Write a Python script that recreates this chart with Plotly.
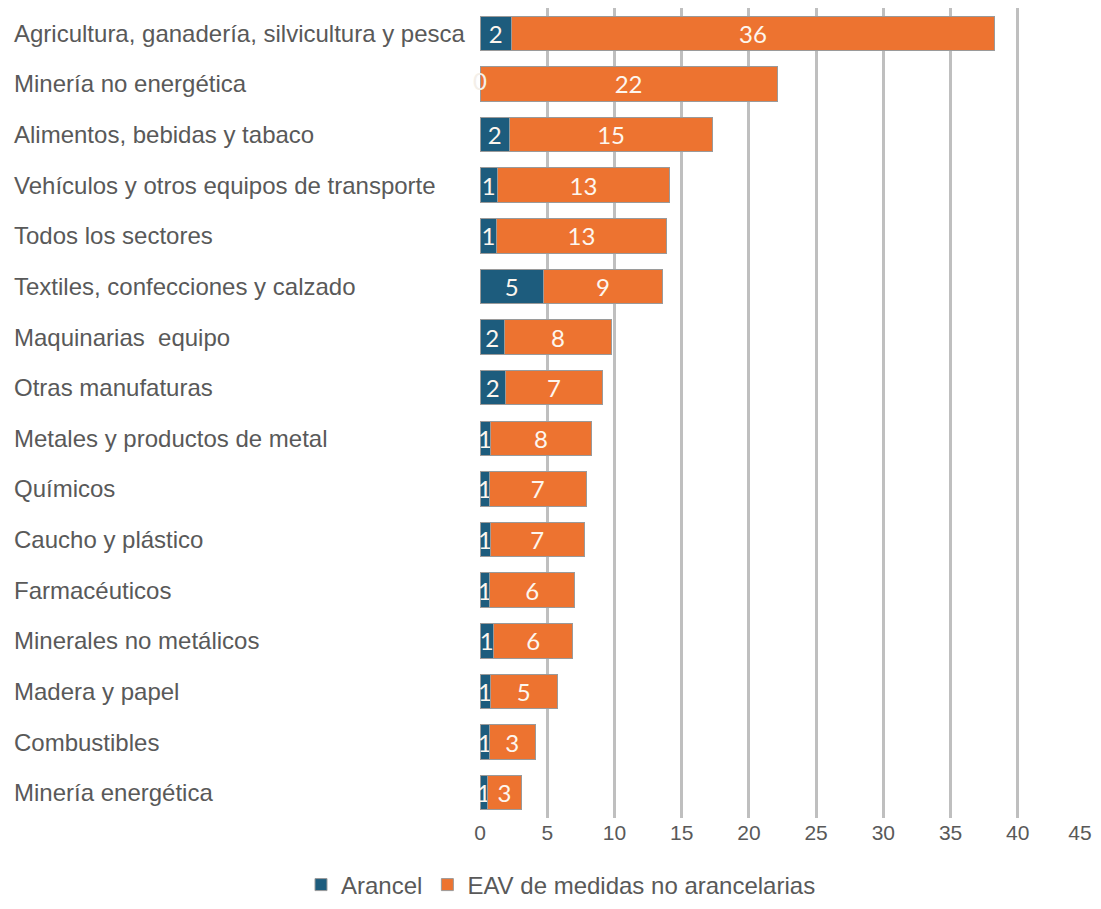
import plotly.graph_objects as go

categories = [
    "Agricultura, ganadería, silvicultura y pesca",
    "Minería no energética",
    "Alimentos, bebidas y tabaco",
    "Vehículos y otros equipos de transporte",
    "Todos los sectores",
    "Textiles, confecciones y calzado",
    "Maquinarias  equipo",
    "Otras manufaturas",
    "Metales y productos de metal",
    "Químicos",
    "Caucho y plástico",
    "Farmacéuticos",
    "Minerales no metálicos",
    "Madera y papel",
    "Combustibles",
    "Minería energética",
]
arancel = [2.35, 0.0, 2.2, 1.3, 1.25, 4.7, 1.8, 1.9, 0.75, 0.7, 0.75, 0.7, 1.0, 0.75, 0.7, 0.55]
eav = [35.9, 22.1, 15.1, 12.8, 12.6, 8.9, 8.0, 7.2, 7.55, 7.2, 7.0, 6.35, 5.9, 5.0, 3.4, 2.55]

x_ticks = [0, 5, 10, 15, 20, 25, 30, 35, 40, 45]
series_names = ["Arancel", "EAV de medidas no arancelarias"]

BLUE = "#1d5c7d"
ORANGE = "#ed7330"
GRAY_TXT = "#595959"
LABEL_FONT = "Liberation Sans, Arial, sans-serif"

# the page body adds an 8px offset; figure coords = window coords - 8
W, H = 1089, 893
ML, MR, MT, MB = 472, 12, 0, 83
PW = W - ML - MR
PH = H - MT - MB

fig = go.Figure()

arancel_text = [f"{v:.0f}" if v > 0 else "" for v in arancel]
fig.add_trace(go.Bar(
    y=categories, x=arancel, orientation="h", name=series_names[0],
    marker=dict(color=BLUE, line=dict(color="#9a9a9a", width=1)),
    text=arancel_text, textposition="inside", insidetextanchor="middle",
    constraintext="none", textangle=0,
    textfont=dict(family="Lato", size=24, color="#fdf6ee"),
    hoverinfo="skip",
))
fig.add_trace(go.Bar(
    y=categories, x=eav, orientation="h", name=series_names[1],
    marker=dict(color=ORANGE, line=dict(color="#9a9a9a", width=1)),
    texttemplate="%{x:.0f}", textposition="inside", insidetextanchor="middle",
    constraintext="none", textangle=0,
    textfont=dict(family="Lato", size=24, color="#fdf6ee"),
    hoverinfo="skip",
))

# zero-valued arancel label (drawn at its bar position)
zero_y = [c for c, v in zip(categories, arancel) if v == 0]
zero_x = [v for v in arancel if v == 0]
fig.add_trace(go.Scatter(
    x=zero_x, y=zero_y, mode="text", text=[f"{v:.0f}" for v in zero_x],
    textposition="middle center",
    textfont=dict(family="Lato", size=24, color="#f4efe9"),
    showlegend=False, hoverinfo="skip", cliponaxis=False,
))

# carrier for the overlaid axis that holds the last tick label (kept in view)
fig.add_trace(go.Scatter(
    x=[x_ticks[-1]], y=[categories[0]], xaxis="x2", yaxis="y", mode="markers",
    marker=dict(size=1, opacity=0), showlegend=False, hoverinfo="skip",
))

for c in categories:
    fig.add_annotation(
        x=-(ML - 4) / PW, xref="paper", y=c, yref="y",
        text=c, showarrow=False, xanchor="left", yanchor="middle",
        font=dict(family=LABEL_FONT, size=24, color=GRAY_TXT),
    )

tick_font = dict(family=LABEL_FONT, size=21, color=GRAY_TXT)

fig.update_layout(
    width=W, height=H,
    margin=dict(l=ML, r=MR, t=MT, b=MB, autoexpand=False),
    barmode="stack", bargap=0.32,
    plot_bgcolor="white", paper_bgcolor="white",
    showlegend=True,
    legend=dict(
        orientation="h", xref="paper", x=(553 - ML) / PW, xanchor="center",
        yref="container", y=1 - 877 / H, yanchor="middle",
        font=dict(family=LABEL_FONT, size=24, color=GRAY_TXT),
        itemwidth=30, traceorder="normal", tracegroupgap=0,
    ),
    xaxis=dict(
        range=[x_ticks[0], x_ticks[-1]], autorange=False, tickvals=x_ticks,
        ticktext=[str(t) for t in x_ticks[:-1]] + [""],
        showgrid=True, gridcolor="#bfbfbf", gridwidth=3,
        zeroline=False, showline=False, ticks="", automargin=False,
        ticklabeloverflow="allow", tickfont=tick_font,
        fixedrange=True,
    ),
    xaxis2=dict(
        overlaying="x", anchor="y", side="bottom", matches="x",
        range=[x_ticks[0], x_ticks[-1]], autorange=False, tickvals=x_ticks[-1:],
        ticktext=[str(t) for t in x_ticks[-1:]], ticklabelshift=-5,
        showgrid=False, zeroline=False, showline=False, ticks="",
        automargin=False, ticklabeloverflow="allow", tickfont=tick_font,
        fixedrange=True,
    ),
    yaxis=dict(
        categoryorder="array", categoryarray=categories,
        range=[len(categories) - 0.5, -0.5], autorange=False,
        showticklabels=False, showgrid=False, zeroline=False, ticks="",
        automargin=False, fixedrange=True,
    ),
)

fig.write_html("out.html")
